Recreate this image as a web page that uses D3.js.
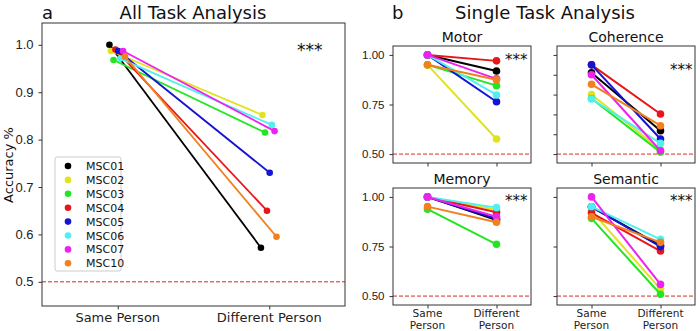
<!DOCTYPE html>
<html>
<head>
<meta charset="utf-8">
<script src="https://cdn.jsdelivr.net/npm/d3@7"></script>
<style>
  body { margin: 0; background: #fff; }
  svg { font-family: "DejaVu Sans", sans-serif; }
  .axis path, .axis line { stroke: #333; }
  .axis text { fill: #222; }
</style>
</head>
<body>
<svg id="chart" width="700" height="331"></svg>
<script>
// subjects
var subjects = ["MSC01", "MSC02", "MSC03", "MSC04", "MSC05", "MSC06", "MSC07", "MSC10"];
var colors = ["#000000", "#e2e21e", "#22e622", "#e8161b", "#1414d2", "#50f0f0", "#ee22ee", "#f2801e"];
var jitter = [-0.055, -0.045, -0.028, -0.015, 0.003, 0.017, 0.035, 0.048];
var conditions = ["Same Person", "Different Person"];

// all task accuracies
var allSame = [1.0, 0.987, 0.968, 0.99, 0.987, 0.971, 0.987, 0.975];
var allDiff = [0.572, 0.852, 0.815, 0.65, 0.73, 0.831, 0.818, 0.595];

// single task accuracies, [same, different] per subject
var motorSame = [1.0, 0.95, 0.95, 1.0, 1.0, 1.0, 1.0, 0.95];
var motorDiff = [0.919, 0.576, 0.845, 0.97, 0.764, 0.798, 0.879, 0.875];
var coherenceSame = [0.91, 0.80, 0.78, 0.95, 0.95, 0.778, 0.90, 0.852];
var coherenceDiff = [0.618, 0.522, 0.51, 0.702, 0.576, 0.554, 0.517, 0.643];
var memorySame = [1.0, 1.0, 0.938, 1.0, 1.0, 1.0, 1.0, 0.951];
var memoryDiff = [0.884, 0.935, 0.761, 0.923, 0.89, 0.946, 0.90, 0.872];
var semanticSame = [0.95, 0.93, 0.892, 0.92, 0.95, 0.951, 1.0, 0.90];
var semanticDiff = [0.755, 0.535, 0.509, 0.727, 0.749, 0.786, 0.559, 0.771];

var allTicks = [0.5, 0.6, 0.7, 0.8, 0.9, 1.0];
var taskTicks = [0.5, 0.75, 1.0];
var chance = 0.5;

var svg = d3.select("#chart");

function panel(o) {
    var g = svg.append("g");
    var x = d3.scaleLinear().domain([-0.5, 1.5]).range([o.left, o.right]);
    var y = d3.scaleLinear().domain(o.ydom).range([o.bottom, o.top]);

    // chance line
    g.append("line")
        .attr("x1", o.left).attr("x2", o.right)
        .attr("y1", y(chance)).attr("y2", y(chance))
        .attr("stroke", "#d62728").attr("stroke-width", 1)
        .attr("stroke-dasharray", "4,2");

    // lines + points
    subjects.forEach(function(s, i) {
        var dx = o.jitter ? jitter[i] : 0;
        var pts = [[0 + dx, o.same[i]], [1 + dx, o.diff[i]]];
        g.append("path")
            .attr("d", d3.line().x(function(d) { return x(d[0]); }).y(function(d) { return y(d[1]); })(pts))
            .attr("stroke", colors[i]).attr("stroke-width", o.lw).attr("fill", "none");
        g.selectAll(null).data(pts).enter().append("circle")
            .attr("cx", function(d) { return x(d[0]); })
            .attr("cy", function(d) { return y(d[1]); })
            .attr("r", o.r).attr("fill", colors[i]);
    });

    // axes
    var ya = d3.axisLeft(y).tickValues(o.yticks).tickSize(3.5).tickSizeOuter(0);
    if (o.yfmt) ya.tickFormat(d3.format(o.yfmt)); else ya.tickFormat("");
    g.append("g").attr("class", "axis").attr("transform", "translate(" + o.left + ",0)").call(ya)
        .call(function(a) { a.selectAll("text").attr("font-size", o.fs).attr("dx", "-2"); a.select(".domain").remove(); });

    var xa = d3.axisBottom(x).tickValues([0, 1]).tickSize(3.5).tickSizeOuter(0).tickFormat("");
    var xg = g.append("g").attr("class", "axis").attr("transform", "translate(0," + o.bottom + ")").call(xa);
    xg.select(".domain").remove();
    if (o.xlab) {
        [0, 1].forEach(function(v, k) {
            var t = g.append("text").attr("x", x(v)).attr("y", o.bottom + o.xlabDy)
                .attr("text-anchor", "middle").attr("font-size", o.xfs).attr("fill", "#222");
            if (o.split) {
                var parts = conditions[k].split(" ");
                t.append("tspan").attr("x", x(v)).text(parts[0]);
                t.append("tspan").attr("x", x(v)).attr("dy", o.xfs * 1.15).text(parts[1]);
            } else t.text(conditions[k]);
        });
    }

    // frame
    g.append("rect").attr("x", o.left).attr("y", o.top)
        .attr("width", o.right - o.left).attr("height", o.bottom - o.top)
        .attr("fill", "none").attr("stroke", "#333").attr("stroke-width", 1);

    if (o.title) {
        g.append("text").attr("x", (o.left + o.right) / 2).attr("y", o.top - 4)
            .attr("text-anchor", "middle").attr("font-size", 14).attr("fill", "#111").text(o.title);
    }
    g.append("text").attr("x", o.starX).attr("y", o.starY)
        .attr("font-size", o.starFs).attr("fill", "#111").text("***");
    return { x: x, y: y };
}

// panel a
panel({
    left: 42, right: 345, top: 23, bottom: 306,
    ydom: [0.449, 1.046], yticks: allTicks, yfmt: ".1f", fs: 13,
    same: allSame, diff: allDiff, jitter: true, lw: 1.8, r: 3.3,
    xlab: true, xlabDy: 16, xfs: 13, split: false,
    starX: 297, starY: 56, starFs: 17
});
svg.append("text").attr("x", 42).attr("y", 19).attr("font-size", 18).attr("fill", "#111").text("a");
svg.append("text").attr("x", 193).attr("y", 19).attr("text-anchor", "middle").attr("font-size", 18).attr("fill", "#111").text("All Task Analysis");
svg.append("text").attr("transform", "translate(13,165) rotate(-90)").attr("text-anchor", "middle")
    .attr("font-size", 13).attr("fill", "#111").text("Accuracy %");

// legend
var lg = svg.append("g").attr("transform", "translate(55,157)");
lg.append("rect").attr("width", 66).attr("height", 114).attr("rx", 2)
    .attr("fill", "#fff").attr("stroke", "#ccc");
subjects.forEach(function(s, i) {
    lg.append("circle").attr("cx", 13).attr("cy", 9 + i * 13.9).attr("r", 3.3).attr("fill", colors[i]);
    lg.append("text").attr("x", 31).attr("y", 13 + i * 13.9).attr("font-size", 11).attr("fill", "#111").text(s);
});

// panel b
svg.append("text").attr("x", 392).attr("y", 19).attr("font-size", 18).attr("fill", "#111").text("b");
svg.append("text").attr("x", 545).attr("y", 19).attr("text-anchor", "middle").attr("font-size", 18).attr("fill", "#111").text("Single Task Analysis");

var taskDom = [0.455, 1.045];
panel({
    left: 393, right: 531, top: 46, bottom: 163, ydom: taskDom, yticks: taskTicks, yfmt: ".2f", fs: 11.5,
    same: motorSame, diff: motorDiff, lw: 2, r: 3.8, title: "Motor",
    starX: 505, starY: 65, starFs: 15
});
panel({
    left: 557, right: 695, top: 46, bottom: 163, ydom: taskDom, yticks: allTicks, yfmt: null, fs: 11.5,
    same: coherenceSame, diff: coherenceDiff, lw: 2, r: 3.8, title: "Coherence",
    starX: 670, starY: 75, starFs: 15
});
panel({
    left: 393, right: 531, top: 188, bottom: 305, ydom: taskDom, yticks: taskTicks, yfmt: ".2f", fs: 11.5,
    same: memorySame, diff: memoryDiff, lw: 2, r: 3.8, title: "Memory",
    xlab: true, xlabDy: 12, xfs: 10.5, split: true,
    starX: 505, starY: 206, starFs: 15
});
panel({
    left: 557, right: 695, top: 188, bottom: 305, ydom: taskDom, yticks: taskTicks, yfmt: null, fs: 11.5,
    same: semanticSame, diff: semanticDiff, lw: 2, r: 3.8, title: "Semantic",
    xlab: true, xlabDy: 12, xfs: 10.5, split: true,
    starX: 670, starY: 206, starFs: 15
});
</script>
</body>
</html>
